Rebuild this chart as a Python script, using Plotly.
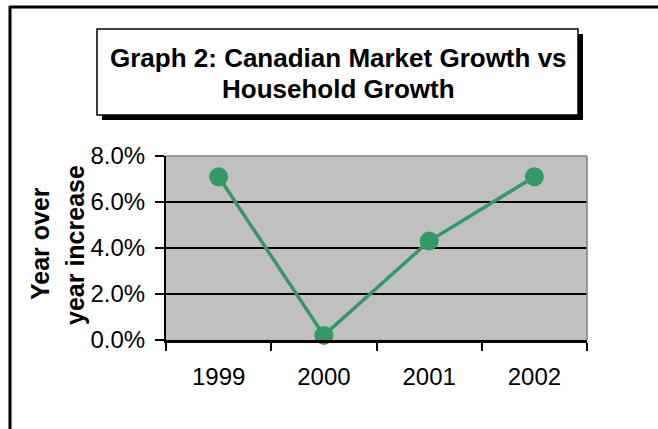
import plotly.graph_objects as go

# data
years = ["1999", "2000", "2001", "2002"]
growth = [0.071, 0.002, 0.043, 0.071]
y_ticks = [0, 0.02, 0.04, 0.06, 0.08]
y_tick_labels = ["0.0%", "2.0%", "4.0%", "6.0%", "8.0%"]

W, H = 658, 429
# plot area in pixels
L, R, T, B = 166, 587, 156, 340


def px(x):
    return (x - L) / (R - L)


def py(y):
    return (B - y) / (B - T)


FONT = "Liberation Sans, Arial, sans-serif"
GREEN = "#339966"

fig = go.Figure()
fig.add_trace(go.Scatter(
    x=years, y=growth,
    mode="lines+markers",
    line=dict(color=GREEN, width=3.5),
    marker=dict(color=GREEN, size=19),
    cliponaxis=False,
    showlegend=False,
))

shapes = [
    # outer frame (top and left only)
    dict(type="line", xref="paper", yref="paper", x0=px(9.5), x1=px(660), y0=py(7), y1=py(7),
         line=dict(color="black", width=3)),
    dict(type="line", xref="paper", yref="paper", x0=px(10), x1=px(10), y0=py(6), y1=py(432),
         line=dict(color="black", width=3)),
    # title box shadow + box
    dict(type="rect", xref="paper", yref="paper", x0=px(102), x1=px(583), y0=py(34), y1=py(120),
         fillcolor="black", line=dict(width=0)),
    dict(type="rect", xref="paper", yref="paper", x0=px(97), x1=px(578), y0=py(29), y1=py(115),
         fillcolor="white", line=dict(color="black", width=1.5)),
    # plot area border top/right in grey
    dict(type="line", xref="paper", yref="paper", x0=0, x1=1, y0=1, y1=1,
         line=dict(color="#808080", width=1.5)),
    dict(type="line", xref="paper", yref="paper", x0=1, x1=1, y0=0, y1=1,
         line=dict(color="#808080", width=1.5)),
]

annotations = [
    dict(text="<b>Graph 2: Canadian Market Growth vs</b>", xref="paper", yref="paper",
         x=px(338), y=py(58), xanchor="center", yanchor="middle", showarrow=False,
         font=dict(family=FONT, size=26, color="black")),
    dict(text="<b>Household Growth</b>", xref="paper", yref="paper",
         x=px(338), y=py(89), xanchor="center", yanchor="middle", showarrow=False,
         font=dict(family=FONT, size=26, color="black")),
    dict(text="<b>Year over</b>", xref="paper", yref="paper",
         x=px(40), y=py(244), xanchor="center", yanchor="middle", showarrow=False,
         textangle=-90, font=dict(family=FONT, size=25, color="black")),
    dict(text="<b>year increase</b>", xref="paper", yref="paper",
         x=px(75), y=py(245), xanchor="center", yanchor="middle", showarrow=False,
         textangle=-90, font=dict(family=FONT, size=25, color="black")),
]

fig.update_layout(
    width=W, height=H,
    margin=dict(l=L, r=W - R, t=T, b=H - B, pad=0),
    paper_bgcolor="white",
    plot_bgcolor="#C0C0C0",
    font=dict(family=FONT, size=24, color="black"),
    shapes=shapes,
    annotations=annotations,
    showlegend=False,
)

fig.update_xaxes(
    type="category",
    tickson="boundaries",
    ticks="outside", ticklen=8, tickwidth=2, tickcolor="black",
    showline=True, linecolor="black", linewidth=2.5,
    showgrid=False,
    range=[-0.5, 3.5],
    tickfont=dict(family=FONT, size=24),
    ticklabelstandoff=13,
    fixedrange=True,
)

fig.update_yaxes(
    range=[0, 0.08],
    tickvals=y_ticks, ticktext=y_tick_labels,
    ticks="outside", ticklen=9, tickwidth=2, tickcolor="black",
    showline=True, linecolor="black", linewidth=2,
    showgrid=True, gridcolor="black", gridwidth=2,
    zeroline=False,
    tickfont=dict(family=FONT, size=24),
    ticklabelstandoff=5,
    fixedrange=True,
)

# drop the page's default body margin so the figure sits at the window origin
fig.write_html("out.html", config=dict(displayModeBar=False),
               post_script="document.body.style.margin='0';")
